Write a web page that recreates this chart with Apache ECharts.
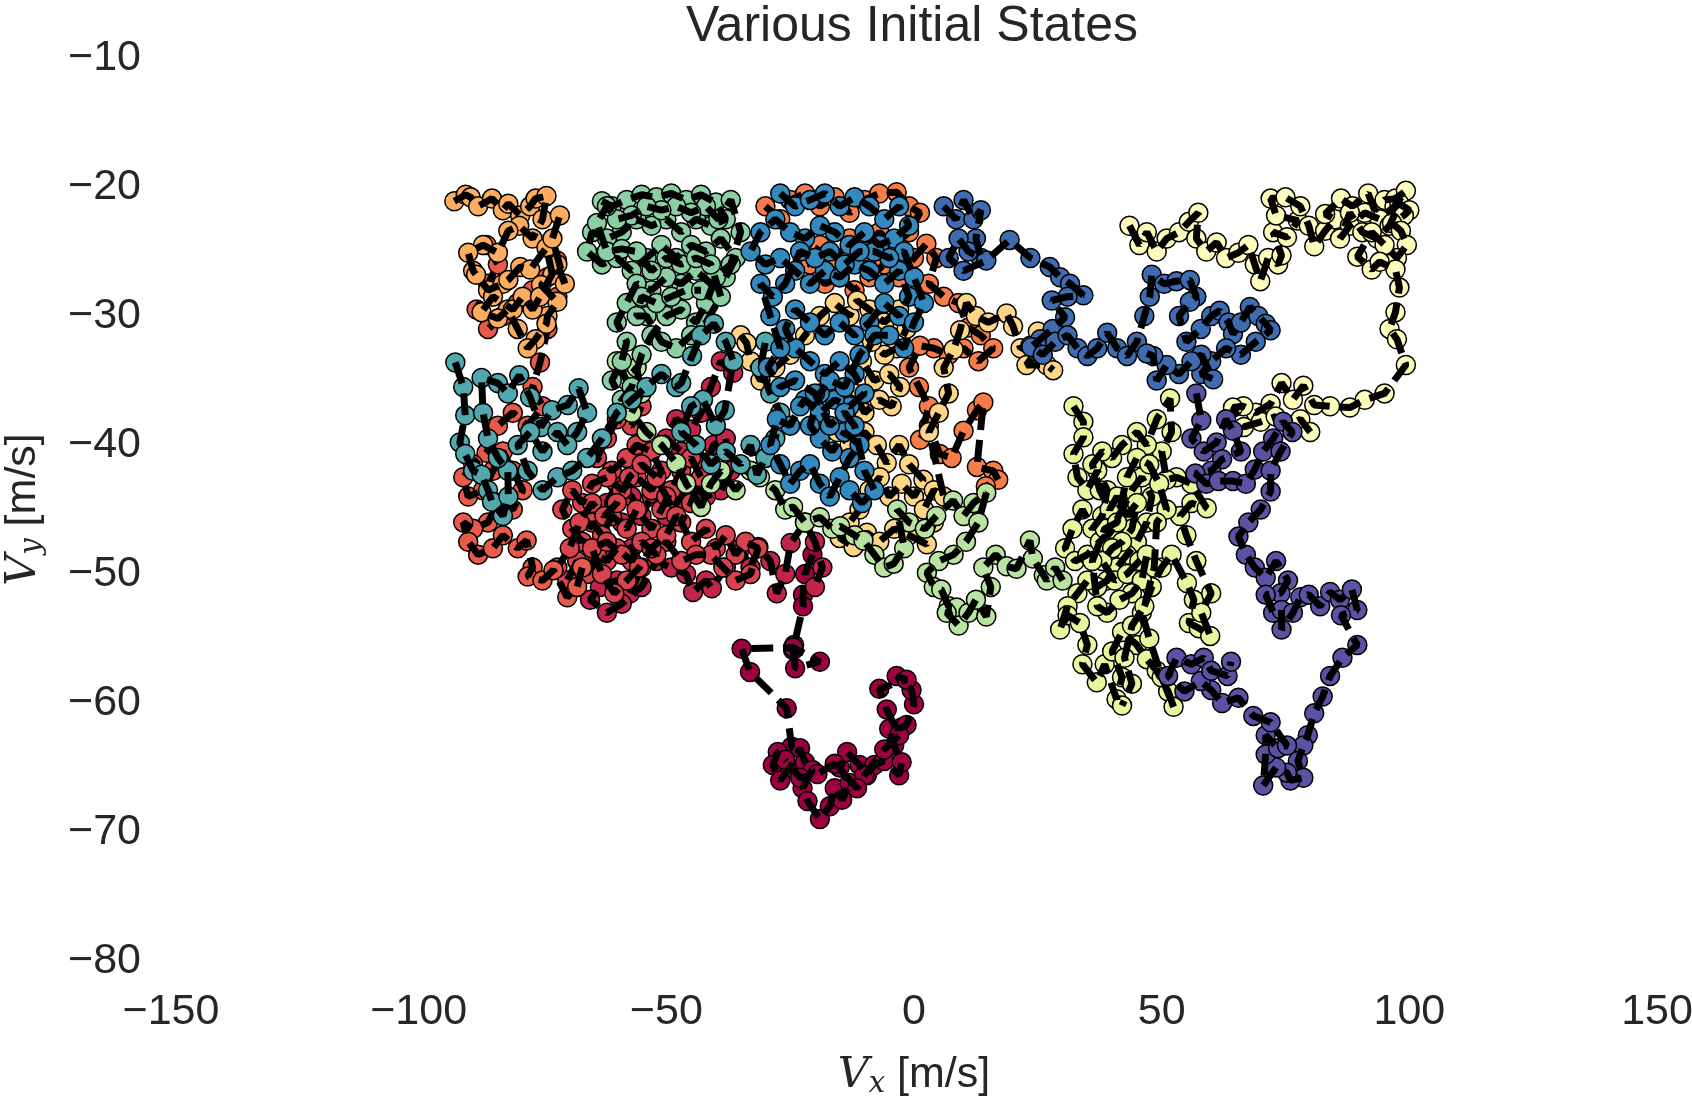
<!DOCTYPE html>
<html>
<head>
<meta charset="utf-8">
<title>Various Initial States</title>
<script src="https://cdn.jsdelivr.net/npm/echarts@6/dist/echarts.min.js"></script>
<style>
  html, body { margin: 0; padding: 0; background: #fff; }
  #chart { width: 1692px; height: 1096px; }
</style>
</head>
<body>
<div id="chart"></div>
<script>
// velocity random walks, one array per initial state, [Vx, Vy] in m/s
var traj0 = [[-20.5,-48.5],[-22,-50],[-22.4,-51.6],[-22.4,-52.5],[-24.2,-55.5],[-24.4,-55.9],[-24,-57.3],[-19,-56.8],[-24.4,-55.7],[-34.8,-55.8],[-33.1,-57.6],[-25.7,-60.4],[-24.7,-63.4],[-27.5,-63.8],[-28.5,-64.8],[-27,-66],[-25,-65],[-23,-63.5],[-22,-64.6],[-20.5,-65.2],[-22.5,-66.6],[-21.5,-67.6],[-19,-69],[-17,-68],[-16,-66.6],[-14.5,-67.5],[-13,-66.2],[-15,-65],[-13.5,-63.8],[-11,-64.8],[-9.5,-65.6],[-8,-64.8],[-6,-64.5],[-3,-65.6],[-2.5,-64.6],[-4,-63.3],[-5,-62],[-2.5,-61.9],[-1.5,-61.7],[0,-60.1],[-0.5,-59],[-3.5,-57.9],[-1.5,-58.2],[-7,-58.9],[-5.5,-60.5],[-3,-62.5],[-6,-63.6],[-10,-65.6],[-11.5,-66.6],[-16,-64.7],[-19.5,-65.5],[-23,-65.8],[-26,-64.4]];
var traj1 = [[-36.5,-34.4],[-39,-33.5],[-41,-35.5],[-43,-37.5],[-45,-38.8],[-48,-38],[-50,-39.5],[-47,-40.5],[-44,-40],[-42,-41.5],[-40.5,-40],[-38,-39.5],[-37,-42],[-39,-43.5],[-42,-44],[-45,-43],[-48,-44.5],[-50,-45.5],[-53,-44],[-55,-45.5],[-57,-44],[-60,-43],[-62,-44.5],[-59,-46],[-57,-48],[-55,-49.5],[-57.3,-51.5],[-60,-50.5],[-63.4,-51],[-65.4,-52],[-62,-53],[-59,-52.3],[-55,-51],[-52,-49],[-49,-49.5],[-46,-50],[-44.6,-51.4],[-42,-50.5],[-40.8,-51.1],[-38,-49.5],[-35,-48],[-33,-49.5],[-31.4,-47.9],[-29,-49],[-27.7,-51.5],[-26,-50],[-24.9,-47.6],[-22,-46],[-20,-47.5],[-18.5,-49.5],[-20,-51]];
var traj2 = [[-55,-37],[-57,-38.5],[-60,-38],[-62,-39.5],[-64,-41],[-61,-42],[-58,-41],[-56,-40],[-53,-40.5],[-51,-42],[-53,-43.5],[-56,-42.5],[-59,-43.5],[-62,-42.5],[-65,-43],[-67,-44.5],[-69,-43.5],[-71,-45],[-69,-46.5],[-67,-47.5],[-65,-46],[-63,-47],[-61,-45.5],[-58,-46.5],[-56,-45],[-53,-46.5],[-51,-45],[-49,-43.5],[-47,-42],[-45,-41],[-43,-42.5],[-45,-44.5],[-47,-46],[-45,-47.5],[-42,-46.5],[-40,-48],[-38,-47],[-36,-48.5],[-34,-47.5],[-31.5,-48],[-33,-50],[-36,-50.5],[-38.5,-49.5],[-41,-48.5],[-44,-48.5],[-47,-49],[-50,-47.5],[-52,-48.5],[-55,-47.5],[-57,-49],[-60,-48],[-62,-49],[-64,-48.5],[-66,-50],[-68,-49],[-70,-50.5],[-72,-49.5],[-69.5,-48],[-67.5,-46],[-65,-44.5],[-62.5,-45.5],[-60,-44.5],[-57.5,-42.5],[-55,-41.5],[-52,-42.5],[-50,-44],[-48,-45.5],[-50,-47],[-53,-48],[-55.5,-49.5],[-58,-50.5],[-60.5,-51.5],[-63,-50],[-65,-48],[-62,-47.5],[-59,-48.5]];
var traj3 = [[-86.3,-24.5],[-84,-26],[-86,-27.5],[-88.3,-29.5],[-86,-31],[-83,-30],[-80,-29],[-77,-28],[-74,-27],[-72.1,-25.7],[-72,-28.5],[-74,-31],[-75.5,-33.6],[-77,-35.5],[-75,-37],[-78,-38.5],[-81,-37.5],[-84,-38.5],[-86.3,-40.6],[-89,-41.5],[-91,-42.5],[-90,-44],[-87,-43.5],[-85,-42],[-83,-40.5],[-81,-42],[-79,-43.5],[-81,-45],[-84,-44.5],[-86,-46],[-89,-46.5],[-91,-46],[-90,-47.5],[-88,-48.5],[-85,-48],[-83,-47],[-80,-48],[-78.2,-47.4],[-77,-49.5],[-78,-50.2],[-75,-50.5],[-72.8,-49.7],[-70,-51.8],[-68,-51],[-67,-49.5]];
var traj4 = [[-30,-21.5],[-27,-22.5],[-25,-21],[-22,-20.5],[-19,-21.5],[-16,-20.8],[-13,-22],[-10,-21],[-7,-20.5],[-3.5,-20.4],[-1,-21.5],[1.2,-22],[-1,-23.5],[-4,-24.5],[-7,-23.5],[-10,-25],[-13,-24],[-16,-25.5],[-19,-24.5],[-21,-26],[-18,-27.5],[-15,-27],[-12,-28],[-9,-27],[-6,-26],[-3,-27],[0,-25.5],[2.5,-24.4],[4.5,-25.5],[3,-27.5],[6,-28.5],[9,-29],[11,-30.9],[13.5,-31.5],[16,-32.5],[13,-33.5],[10,-32.5],[7,-33],[4,-32.5],[1.2,-32.3],[-1,-34],[1,-35.5],[3,-37],[1.2,-39.6],[3,-38.5],[5.2,-40.7],[7.6,-41],[10,-38.9],[12.7,-37.3],[14,-36.7],[12.7,-41.7],[16,-42],[17,-42.7],[14.5,-43.2]];
var traj5 = [[-92.8,-21.1],[-90.5,-20.6],[-89.5,-20.8],[-88,-21.5],[-85.2,-20.9],[-83,-21.8],[-81.9,-21.3],[-79.5,-22.2],[-77.5,-21.5],[-76.4,-20.9],[-74.2,-20.7],[-75,-22.5],[-77,-24],[-79.7,-23],[-81.9,-23.4],[-84,-25.1],[-87,-24.5],[-90,-25.1],[-89,-26.5],[-88.4,-26.8],[-86,-28],[-83,-27.5],[-81.9,-27.2],[-79.5,-26.2],[-77.5,-26.4],[-74.2,-24.7],[-73,-26.8],[-75.3,-27.6],[-72,-28.9],[-74,-30],[-74.2,-30.6],[-76.4,-31.8],[-78,-32.5],[-80,-31],[-82,-29.5],[-84,-30.2],[-87.3,-29.7],[-85,-28.5],[-81,-29.5],[-79,-28.5],[-77,-29.5],[-75.5,-28.5],[-72,-26],[-70.5,-27.5],[-73,-24],[-71.5,-22.2]];
var traj6 = [[-35,-31.5],[-33.8,-32.1],[-33,-33.5],[-31,-35],[-28,-34],[-25,-33],[-22,-31.5],[-19,-30],[-16,-29],[-13,-30],[-11.5,-28.8],[-9,-29.5],[-6,-30.5],[-3,-29.5],[-1.5,-31],[-3.5,-32.5],[-6,-33],[-8.5,-32],[-10.5,-33.5],[-8,-35],[-5,-34.5],[-2.8,-35.5],[-4.5,-37],[-7,-36.5],[-10,-37.5],[-12,-36],[-14,-37.5],[-15.5,-39],[-13,-40],[-10,-39],[-7.5,-40],[-5.5,-41.4],[-3,-40],[-1,-41.5],[1.9,-42.7],[0,-44],[-2.5,-43],[-5,-44],[-6.9,-42.5],[-9,-43.5],[-11,-45],[-13,-46],[-15,-47.2],[-12.2,-47.9],[-9.5,-46.8],[-7,-47.5],[-4,-46.5],[-1,-47],[2.6,-47.7],[4,-46],[2,-45],[4,-43.5],[6,-44],[3,-39],[5,-37.5],[7,-36],[6,-34],[8,-32.6],[9.3,-31.1],[10.6,-29],[12.5,-30],[15,-30.5],[18.7,-29.8],[20,-30.8],[21.5,-32.5],[23.5,-32.3],[25,-31.2],[26.5,-31.8],[22.7,-33.8],[26.8,-33.8],[28.1,-34.2]];
var traj7 = [[43.5,-23],[45.5,-24.5],[47,-23.5],[49,-25],[51,-24],[53.5,-23.5],[55.5,-22.7],[57.4,-22],[57,-24],[59,-25],[61.1,-24.3],[63,-25.5],[65.5,-25.1],[67.5,-24.5],[68.8,-26],[69.9,-27.3],[71.5,-25.5],[73.5,-26],[74.2,-25.3],[72.5,-23.5],[75.3,-23.9],[77.5,-22.6],[73.1,-22.2],[72,-20.9],[75,-20.8],[78,-21.5],[79.7,-23],[80.8,-24.6],[83,-23.4],[85,-22.5],[83,-22.1],[86.2,-20.9],[88.5,-21.5],[91.7,-20.5],[93,-21.8],[95,-21],[97.2,-20.9],[99.3,-20.3],[97,-21.5],[94,-22.5],[91,-22],[88,-23],[86,-24],[88,-22],[90.5,-23.5],[93.5,-24],[96,-23],[98,-21.3],[100,-21.8],[98.9,-22.2],[96.5,-22.8],[98.3,-23.4],[99.5,-24.5],[97.5,-25.5],[95,-24.5],[92.4,-23.5],[89.5,-25.4],[92.4,-26.4],[94,-25.8],[97.2,-26.4],[98,-27.8],[97.2,-29.7],[96,-31],[97.5,-31.8],[99.3,-33.8],[95,-36],[91,-36.5],[88,-37.1],[84,-37],[80.8,-36.9],[78.6,-35.4],[76.5,-36.5],[74.2,-35.2],[72,-36.8],[69,-37.5],[66.5,-37],[64.4,-37.1],[66.6,-38.6],[70,-38.2],[73,-37.8],[75.3,-38.6],[78,-38],[80,-39]];
var traj8 = [[32.2,-37],[34.2,-38.2],[34.2,-39.4],[32.2,-40.7],[33,-42.5],[35,-43.5],[37,-42],[39,-43.5],[38,-45.5],[36,-46.5],[34,-45],[32,-46.5],[30.5,-48],[32.5,-49],[35,-48.5],[37.5,-47.5],[40,-46.5],[42,-45],[44,-43.5],[46,-42.5],[48,-44],[47,-46],[45,-47.5],[43,-48.5],[41,-49.5],[39,-50.5],[37,-51],[35,-50.5],[33,-51.5],[31,-52.5],[29.5,-54.3],[31,-53.2],[33.5,-53.8],[35,-55.5],[34,-57],[36.9,-58.4],[38.5,-57],[40.9,-59.7],[42,-58],[40,-56],[42,-54.5],[45,-55.5],[47,-56.6],[49,-57.5],[51.3,-59.1],[52.4,-60.3],[50,-58],[47.5,-55],[46,-53],[48,-51],[50,-49.5],[52,-48.5],[55.1,-50.7],[56.5,-52],[55.5,-53.8],[57.5,-54.2],[59.8,-54.8],[58,-53],[60,-51.5],[57,-49],[55,-47],[53.7,-45.5],[56,-44.5],[59.1,-44.9],[56,-43],[53,-42.5],[51,-42.7],[50,-40.5],[52,-39],[51.7,-36.4],[49,-38],[47,-40],[45,-39],[42,-40],[40,-41],[38,-40.5],[36,-41.5],[37.5,-43.5],[39.5,-45],[41,-44],[43,-45.5],[45,-44.5],[44,-46.5],[42,-47.5],[40,-48],[38,-49],[40.5,-50.5],[43,-50],[45.5,-49],[47,-48.5],[46,-50.5],[44,-51.5],[41.5,-52],[39,-53],[37,-52.5],[36,-49],[38.5,-46.5],[41,-46],[43,-42.5],[45,-41],[47.5,-41.5],[49.5,-43],[51,-45],[49,-46],[48.5,-49.5],[46.5,-52.5],[44,-54],[42.5,-56.5],[44,-58.5],[42,-60.2]];
var traj9 = [[-60,-33.5],[-58,-35],[-56,-34],[-55,-36],[-57,-37.5],[-54,-39],[-51,-40],[-48,-41.4],[-46,-43],[-43,-44.8],[-41,-43],[-39,-42],[-36,-43.5],[-33,-42],[-31.1,-42.5],[-28,-43.5],[-26,-45],[-24.4,-44.8],[-22,-46],[-19,-45.6],[-16.5,-46.5],[-14.9,-46.3],[-12,-47],[-10.2,-47.4],[-8,-48.5],[-6,-49.5],[-4.1,-49.2],[-2,-48],[-3.4,-45],[-1,-46],[2.2,-46.5],[4.5,-45.5],[7.9,-44.3],[10,-45.5],[12,-44.5],[14.6,-43.7],[13,-46],[10.5,-47.5],[8,-48.5],[5,-49],[2.6,-49.9],[4,-51],[5.5,-51.2],[7,-52.5],[8.6,-52.6],[6.6,-53],[9,-54],[11,-53],[12.5,-52],[14.6,-53.3],[15.5,-51],[14,-49.5],[16.5,-48.5],[18.7,-49.4],[20.7,-49.6],[23.4,-47.4],[24,-48.8],[26.2,-50.1],[26.8,-50.5],[28.5,-49.5],[30,-50.5]];
var traj10 = [[-63,-21.1],[-61,-21.5],[-58,-21],[-55,-20.6],[-52,-20.8],[-49,-20.5],[-46,-21],[-43,-20.6],[-40,-21.2],[-38,-22.5],[-41,-23],[-44,-22.5],[-47,-23.5],[-50,-22.5],[-53,-23],[-56,-22.5],[-59,-23.5],[-62,-24],[-65,-23.5],[-66,-25],[-63,-26],[-60,-25.5],[-57,-26.5],[-54,-25.5],[-51,-24.5],[-48,-25.5],[-45,-24.5],[-42,-25],[-39,-24],[-36,-25.5],[-38,-27],[-41,-27.5],[-44,-26.5],[-47,-27.5],[-50,-27],[-53,-28],[-56,-27.5],[-58,-29],[-60,-30.5],[-58,-32],[-59,-33.5],[-61,-35],[-59,-36.5],[-57,-35.5],[-55,-33],[-53,-31.5],[-50,-30],[-47,-29.5],[-44,-30.5],[-42,-29],[-40,-27],[-37,-26],[-35,-23.5],[-37,-21],[-39.5,-22.5],[-42,-21.5],[-45,-22],[-48,-21.5],[-51,-21.8],[-54,-21.5],[-57,-22.2],[-60,-22.5],[-62,-21.5],[-64,-22.8],[-62,-25],[-59,-24.8],[-56,-25],[-53,-26.5],[-50,-25.5],[-47,-26],[-44,-25.5],[-41,-26],[-39,-28.5],[-42,-30.5],[-45,-31.5],[-48,-32.5],[-51,-32],[-54,-30],[-56,-30],[-55,-28.5],[-52,-29],[-49,-28.5],[-46,-28],[-43,-28]];
var traj11 = [[-92.6,-33.6],[-91,-35.5],[-90.6,-37.7],[-91.7,-39.8],[-90.6,-40.7],[-89,-42],[-87.3,-42.3],[-86,-43.5],[-85.2,-44.4],[-83,-45.5],[-81.9,-44],[-82,-42],[-84,-41],[-86,-39.5],[-87,-37.5],[-87.3,-34.8],[-84,-35.2],[-82,-36],[-79.7,-34.6],[-77.5,-36.3],[-75.3,-38.6],[-73.1,-37.3],[-69.9,-36.9],[-67.7,-35.6],[-66,-37.5],[-68,-39],[-70,-40],[-72,-39],[-75,-40.5],[-77.5,-39],[-80,-40],[-78,-42],[-75,-43.5],[-72,-42.5],[-69,-42],[-66,-41],[-63,-39.5],[-60,-37.5],[-57,-36.5],[-54,-35.5],[-51,-34.5],[-48,-35.5],[-47,-35.2],[-44.8,-33.1],[-43,-31.5],[-40.4,-30.6],[-38,-32],[-36.5,-33.5],[-38.2,-37.3],[-40,-38.5],[-42.6,-36.5],[-45,-37],[-47,-39],[-44,-40],[-41,-41.5],[-38,-40.5],[-35,-41.5],[-33,-40],[-31.7,-42.3],[-30,-41],[-28,-39.5],[-27,-37.5],[-29,-36],[-31,-34],[-30,-32]];
var traj12 = [[-27,-20.5],[-24,-21.5],[-21,-21],[-18,-20.5],[-15,-21.5],[-12,-20.8],[-9,-21.5],[-6,-22.5],[-3,-21.5],[-1,-23],[-4,-24],[-7,-24.5],[-10,-23.5],[-13,-24.5],[-16,-23.5],[-19,-23],[-22,-24],[-25,-23.5],[-28,-22.5],[-31,-23.5],[-33,-25],[-30,-26],[-27,-25.5],[-24,-26.5],[-21,-27.5],[-18,-26.5],[-15,-27],[-12,-26],[-9,-26.5],[-6,-27.5],[-3,-26.5],[-1,-28.5],[-3,-30],[-6,-29],[-9,-30.5],[-12,-31.5],[-15,-30.5],[-18,-31.5],[-21,-30.5],[-24,-29.5],[-26,-31],[-24,-32.5],[-21,-33.5],[-18,-34.5],[-15,-33.5],[-12,-34.5],[-10,-36],[-13,-37],[-16,-36.5],[-19,-37.5],[-22,-36.5],[-23,-37],[-25,-38.5],[-27.7,-38],[-29,-40],[-27,-41.5],[-25,-43],[-23,-42],[-21,-41.5],[-19,-43],[-17,-44],[-15,-42.5],[-13,-41],[-11,-40],[-14,-39],[-16.5,-40.5],[-19,-39.5],[-21,-38.5],[-19,-36],[-17,-35],[-14,-35.5],[-11,-33],[-8,-31.5],[-5,-31.5],[-2,-32.5],[0,-30.5],[2,-29],[0,-27],[-2,-25],[-5,-25.5],[-8,-25],[-11,-25],[-14,-26],[-17,-25],[-20,-25.5],[-23,-25],[-26,-27.5],[-28.5,-28.5],[-31,-27.5],[-29,-30],[-27,-32.5],[-29.5,-34],[-27,-35.5],[-24,-35],[-20,-36],[-17,-38.5],[-14,-37.5],[-12,-38.5],[-10,-42],[-8,-43.5],[-10.5,-44.5],[-13,-43.5]];
var traj13 = [[6,-21.5],[8.5,-22.5],[10,-21],[12,-22.5],[13.5,-21.8],[12.5,-24],[13.5,-25.5],[11,-25],[9,-24],[7,-25.5],[10,-26.5],[14.6,-25.7],[19.3,-24.1],[23.5,-25.5],[27.4,-26.2],[29.5,-27],[31.5,-27.5],[34.2,-28.4],[31,-28.5],[27.8,-28.8],[30.5,-30.1],[28,-31],[25.5,-31.8],[23.7,-32.4],[26,-33],[28.5,-32],[31,-31.5],[33,-32.5],[35,-33.1],[37,-32.5],[39,-31.3],[41,-32.5],[43,-33.1],[45,-32],[46.5,-30],[47.6,-28.5],[48,-26.8],[50.5,-27.5],[53,-27.3],[55.7,-27.2],[57,-28.5],[55.7,-28.9],[53.5,-30],[55,-32],[57.9,-31],[60,-30],[61.7,-29.6],[63.5,-30.5],[64.4,-31.4],[66,-30.5],[67.8,-29.3],[69.5,-30],[71,-30.6],[72,-31.1],[69,-32],[66,-33],[63,-32.5],[60,-33.5],[58,-34.5],[60.4,-34.9],[58,-33],[56,-33.5],[53.5,-34.5],[51,-33.8],[49,-35],[48.3,-33.1],[47,-32.9]];
var traj14 = [[57,-36],[58,-38.1],[56,-39.5],[58.5,-40.5],[61.1,-39.8],[63,-38],[64.4,-38.9],[66,-40.5],[62.2,-41.1],[60,-42],[56.8,-42.2],[59,-43],[61.5,-42.8],[64.4,-42.8],[67,-43],[68.8,-41.9],[70.5,-40.5],[72.5,-39.5],[74.5,-38.2],[76.4,-39],[74,-40.5],[72,-42],[72,-43.6],[70,-45],[67.5,-46],[65.5,-47.1],[67,-48.5],[68.8,-49.5],[71,-50.3],[73.1,-49],[75.5,-50.5],[74,-51.5],[71,-51.6],[72.5,-53],[74.2,-52.8],[74.2,-54.3],[76.5,-53],[78,-51.8],[79.7,-51.6],[82,-52.5],[84,-51.4],[86,-52],[88.4,-51.2],[89.5,-52.8],[86.2,-53.2],[89.5,-55.5],[86.5,-56.5],[84,-57.9],[82.5,-59.5],[80.8,-60.8],[79.5,-62.5],[78.6,-63.3],[77.5,-64.5],[78.6,-65.8],[76,-66],[75.3,-65.4],[73.1,-65],[70.5,-66.4],[71,-64],[71,-62.5],[73.5,-63.5],[75.3,-63.3],[72,-61.5],[68.5,-61],[65.5,-59.6],[62.2,-60],[60,-59],[57.9,-58.3],[54.6,-59.1],[51.3,-57.9],[53,-56.5],[56,-57],[58.5,-56.5],[60,-57.5],[63.3,-57.9],[64,-56.8]];

var trajectories = [traj0, traj1, traj2, traj3, traj4, traj5, traj6, traj7,
                    traj8, traj9, traj10, traj11, traj12, traj13, traj14];

var xTicks = [-150, -100, -50, 0, 50, 100, 150];
var yTicks = [-80, -70, -60, -50, -40, -30, -20, -10];

// Spectral colour map, one colour per initial state
var palette = ['#9e0142', '#c0264a', '#d8434e', '#e85b4a', '#f67c4a', '#fdad60', '#fed685', '#fefcbb',
               '#eaf69e', '#b9e3a0', '#8ccfa4', '#52a8ae', '#3489be', '#3f6cb1', '#5a52a3'];

var textColor = '#262626';
var sans = 'Liberation Sans, Arial, sans-serif';
var serif = 'DejaVu Serif, Liberation Serif, serif';

function minus(v) {
  return String(v).replace('-', '\u2212');
}

var series = [];
for (var i = 0; i < trajectories.length; i++) {
  // markers first, dashed black path drawn over them
  series.push({
    type: 'scatter',
    data: trajectories[i],
    symbol: 'circle',
    symbolSize: 19,
    z: 2 + i * 2,
    silent: true,
    itemStyle: {
      color: palette[i],
      borderColor: '#000',
      borderWidth: 1.5,
      opacity: 1
    }
  });
  series.push({
    type: 'line',
    data: trajectories[i],
    showSymbol: false,
    symbol: 'none',
    z: 3 + i * 2,
    silent: true,
    lineStyle: {
      color: '#000',
      width: 7,
      type: [22, 10]
    }
  });
}

var nameRich = function () {
  return {
    v: { fontFamily: serif, fontStyle: 'italic', fontSize: 43, color: textColor },
    s: { fontFamily: serif, fontStyle: 'italic', fontSize: 29, color: textColor, padding: [18, 0, 0, 0] },
    u: { fontFamily: sans, fontSize: 43, color: textColor }
  };
};

var chart = echarts.init(document.getElementById('chart'), null, { renderer: 'canvas' });

var option = {
  animation: false,
  backgroundColor: '#fff',
  title: {
    text: 'Various Initial States',
    left: 907,
    top: -3,
    textAlign: 'center',
    textStyle: {
      fontFamily: sans,
      fontSize: 50,
      fontWeight: 'normal',
      color: textColor
    }
  },
  grid: {
    left: 171,
    right: 35,
    top: 58,
    bottom: 135,
    outerBoundsMode: 'none'
  },
  xAxis: {
    type: 'value',
    min: xTicks[0],
    max: xTicks[xTicks.length - 1],
    interval: 50,
    axisLine: { show: false },
    axisTick: { show: false },
    splitLine: { show: false },
    axisLabel: {
      margin: 30,
      fontSize: 43,
      fontFamily: sans,
      color: textColor,
      formatter: minus
    },
    name: '{v|V}{s|x}{u| [m/s]}',
    nameLocation: 'middle',
    nameGap: 91,
    nameTextStyle: { rich: nameRich() }
  },
  yAxis: {
    type: 'value',
    min: yTicks[0],
    max: yTicks[yTicks.length - 1],
    interval: 10,
    axisLine: { show: false },
    axisTick: { show: false },
    splitLine: { show: false },
    axisLabel: {
      margin: 30,
      fontSize: 43,
      fontFamily: sans,
      color: textColor,
      formatter: minus
    },
    name: '{v|V}{s|y}{u| [m/s]}',
    nameLocation: 'middle',
    nameGap: 124,
    nameTextStyle: { rich: nameRich() }
  },
  series: series
};

chart.setOption(option);
</script>
</body>
</html>
